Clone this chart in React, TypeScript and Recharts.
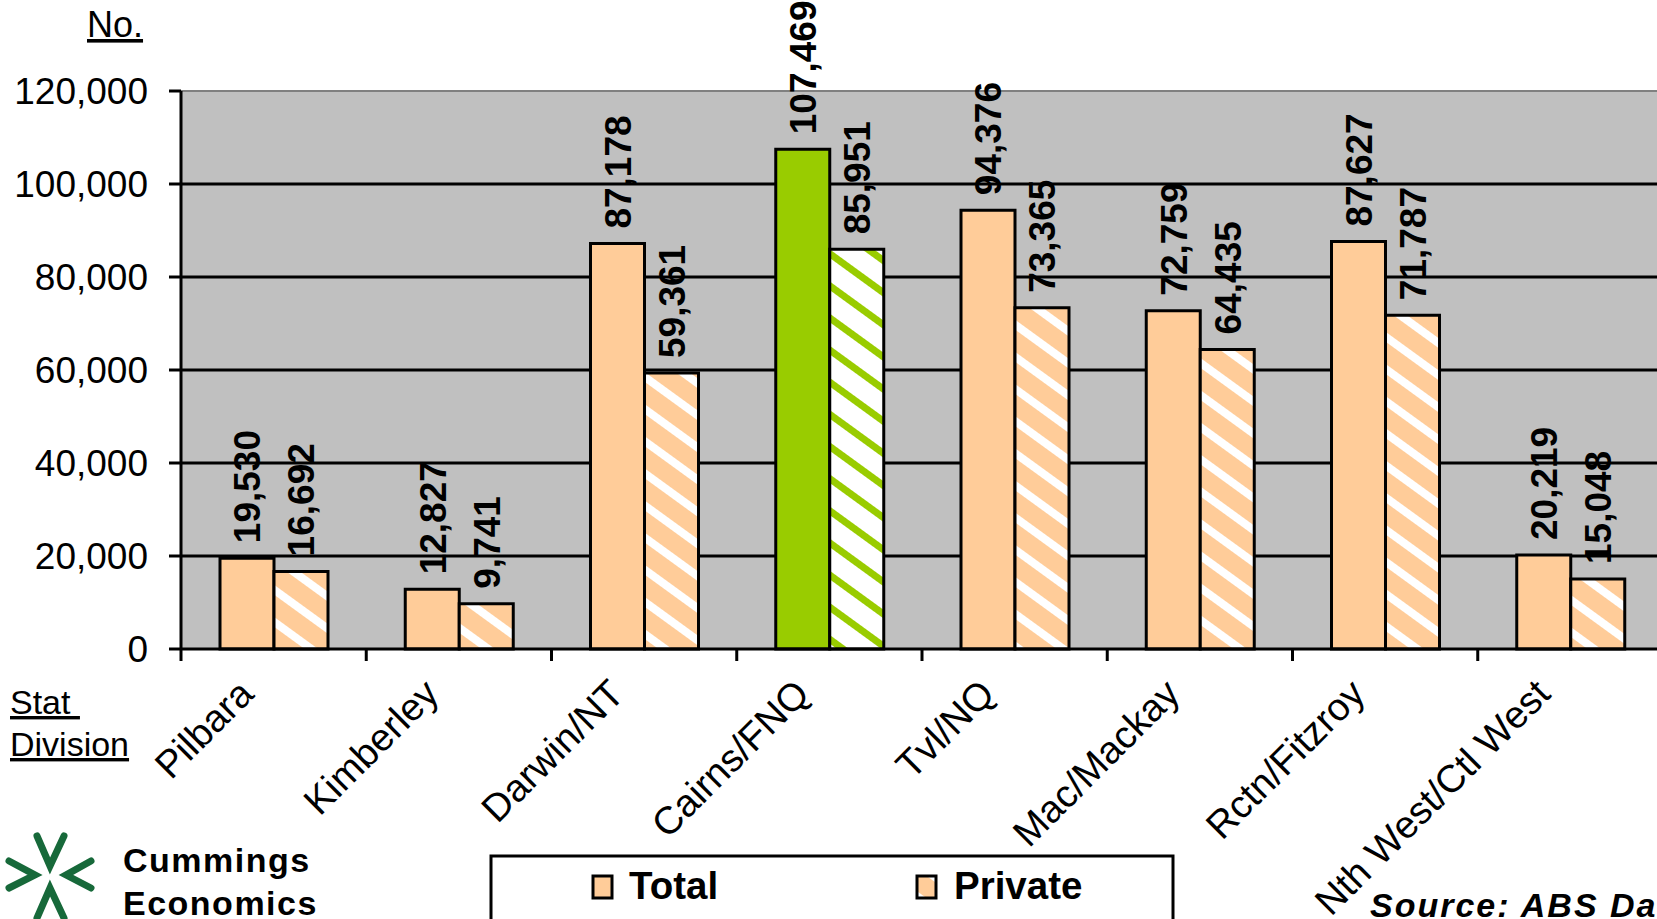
import {
  BarChart,
  Bar,
  XAxis,
  YAxis,
  CartesianGrid,
  Cell,
  LabelList,
  ReferenceLine,
} from 'recharts';

const FONT = '"Liberation Sans", Arial, sans-serif';

const categories = [
  'Pilbara',
  'Kimberley',
  'Darwin/NT',
  'Cairns/FNQ',
  'Tvl/NQ',
  'Mac/Mackay',
  'Rctn/Fitzroy',
  'Nth West/Ctl West',
];
const totalValues = [19530, 12827, 87178, 107469, 94376, 72759, 87627, 20219];
const privateValues = [16692, 9741, 59361, 85951, 73365, 64435, 71787, 15048];
const highlighted = 'Cairns/FNQ';
const yTicks = [0, 20000, 40000, 60000, 80000, 100000, 120000];
const gridValues = [20000, 40000, 60000, 80000, 100000];

const data = categories.map((name, i) => ({
  name,
  total: totalValues[i],
  private: privateValues[i],
}));

const fmt = (v: number) => Number(v).toLocaleString('en-US');

function ValueLabel(props: any) {
  const vb = props.viewBox ?? {};
  const x = props.x ?? vb.x;
  const y = props.y ?? vb.y;
  const width = props.width ?? vb.width;
  const cx = x + width / 2;
  const ty = y - 15;
  return (
    <text
      x={cx}
      y={ty}
      dy="0.36em"
      transform={`rotate(-90 ${cx} ${ty})`}
      textAnchor="start"
      fontSize={37}
      fontWeight="bold"
      fontFamily={FONT}
      fill="#000"
    >
      {fmt(props.value)}
    </text>
  );
}

function CategoryTick(props: any) {
  const { x, y, payload } = props;
  const half = payload.offset ?? 92.6;
  const bx = x - half;
  const tx = x - 18;
  const ty = y + 47;
  return (
    <g>
      <line x1={bx} y1={y} x2={bx} y2={y + 12} stroke="#000" strokeWidth={3} />
      <text
        x={tx}
        y={ty}
        transform={`rotate(-45 ${tx} ${ty})`}
        textAnchor="end"
        fontSize={38.5}
        fontFamily={FONT}
        fill="#000"
      >
        {payload.value}
      </text>
    </g>
  );
}

function Logo() {
  const c = '#17693A';
  const p = { fill: 'none', stroke: c, strokeWidth: 7, strokeLinecap: 'round' as const };
  return (
    <g>
      <polyline points="37,836 50,866 64,836" {...p} />
      <polyline points="37,918 50,888 64,918" {...p} />
      <polyline points="9,861 35,875 9,888" {...p} />
      <polyline points="91,861 66,875 91,888" {...p} />
    </g>
  );
}

export default function App() {
  return (
    <div
      style={{
        position: 'fixed',
        left: 0,
        top: 0,
        width: 1657,
        height: 919,
        overflow: 'hidden',
        background: '#fff',
      }}
    >
      <BarChart
        width={1700}
        height={919}
        data={data}
        margin={{ top: 91, right: 37, bottom: 0, left: 0 }}
        barGap={0}
      >
        <defs>
          <pattern id="hatchPeach" patternUnits="userSpaceOnUse" width={26} height={26} patternTransform="rotate(36)">
            <rect width={26} height={26} fill="#FFCC99" />
            <rect width={26} height={8} fill="#fff" />
          </pattern>
          <pattern id="hatchGreen" patternUnits="userSpaceOnUse" width={26} height={26} patternTransform="rotate(36)">
            <rect width={26} height={26} fill="#fff" />
            <rect width={26} height={7} fill="#99CC00" />
          </pattern>
        </defs>
        <CartesianGrid
          fill="#C0C0C0"
          vertical={false}
          horizontalValues={gridValues}
          stroke="#000"
          strokeWidth={3}
        />
        <ReferenceLine y={120000} stroke="#808080" strokeWidth={2} />
        <XAxis
          dataKey="name"
          height={270}
          interval={0}
          tickSize={0}
          tickMargin={0}
          tickLine={false}
          axisLine={{ stroke: '#000', strokeWidth: 3 }}
          tick={<CategoryTick />}
        />
        <YAxis
          width={181}
          domain={[0, 120000]}
          ticks={yTicks}
          interval={0}
          tickSize={12}
          tickMargin={21}
          tickFormatter={fmt}
          axisLine={{ stroke: '#000', strokeWidth: 3 }}
          tickLine={{ stroke: '#000', strokeWidth: 3 }}
          tick={{ fill: '#000', fontSize: 37, fontFamily: FONT }}
        />
        <Bar dataKey="total" barSize={54} stroke="#000" strokeWidth={3} isAnimationActive={false}>
          {data.map((d) => (
            <Cell key={d.name} fill={d.name === highlighted ? '#99CC00' : '#FFCC99'} />
          ))}
          <LabelList dataKey="total" content={<ValueLabel />} />
        </Bar>
        <Bar dataKey="private" barSize={54} stroke="#000" strokeWidth={3} isAnimationActive={false}>
          {data.map((d) => (
            <Cell key={d.name} fill={d.name === highlighted ? 'url(#hatchGreen)' : 'url(#hatchPeach)'} />
          ))}
          <LabelList dataKey="private" content={<ValueLabel />} />
        </Bar>
      </BarChart>

      <svg
        width={1657}
        height={919}
        style={{ position: 'absolute', left: 0, top: 0, pointerEvents: 'none' }}
        fontFamily={FONT}
      >
        <text x={87} y={37} fontSize={36} style={{ textDecoration: 'underline' }}>No.</text>
        <text x={10} y={714} fontSize={34} style={{ textDecoration: 'underline', whiteSpace: 'pre' }}>Stat </text>
        <text x={10} y={756} fontSize={34} style={{ textDecoration: 'underline' }}>Division</text>

        <Logo />
        <text x={123} y={872} fontSize={34} fontWeight="bold" letterSpacing={1.5}>Cummings</text>
        <text x={123} y={915} fontSize={34} fontWeight="bold" letterSpacing={1.5}>Economics</text>

        <rect x={491} y={856} width={682} height={100} fill="#fff" stroke="#000" strokeWidth={3} />
        <rect x={593} y={876} width={19} height={22} fill="#FFCC99" stroke="#000" strokeWidth={3} />
        <text x={629} y={899} fontSize={38.5} fontWeight="bold">Total</text>
        <rect x={917} y={876} width={19} height={22} fill="url(#hatchPeach)" stroke="#000" strokeWidth={3} />
        <text x={954} y={899} fontSize={38.5} fontWeight="bold">Private</text>

        <text x={1370} y={917} fontSize={34} fontWeight="bold" fontStyle="italic" letterSpacing={2}>Source: ABS Data</text>
      </svg>
    </div>
  );
}
